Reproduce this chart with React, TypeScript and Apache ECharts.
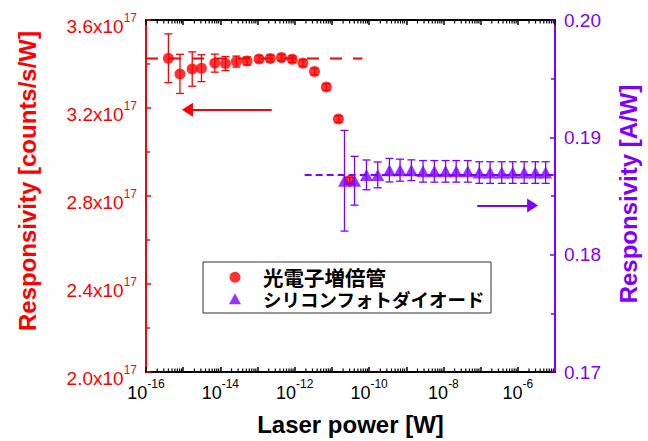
import React, { useEffect, useRef } from 'react';
import * as echarts from 'echarts';

const RED = '#ff0000';
const PURPLE = '#8000ff';
const FONT = 'Liberation Sans, Arial, sans-serif';
const CJK = 'Noto Sans CJK JP';

// Photomultiplier tube (left axis, counts/s/W in units of 1e17)
const pmtName = '光電子増倍管';
const pmtPower = [4.0e-16, 8.2e-16, 1.75e-15, 3.1e-15, 7.1e-15, 1.37e-14, 2.7e-14, 5.2e-14, 1.1e-13, 2.2e-13, 4.4e-13, 8.6e-13, 1.66e-12, 3.4e-12, 7.1e-12, 1.5e-11, 3.0e-11];
const pmtResp = [3.426, 3.355, 3.377, 3.381, 3.404, 3.402, 3.411, 3.414, 3.423, 3.425, 3.429, 3.422, 3.404, 3.366, 3.295, 3.150, 2.870];
const pmtErr = [0.111, 0.089, 0.078, 0.061, 0.041, 0.032, 0.025, 0.018, 0.015, 0.015, 0.015, 0.015, 0.015, 0.015, 0.015, 0.015, 0.015];

// Silicon photodiode (right axis, A/W)
const siName = 'シリコンフォトダイオード';
const siPower = [2.18e-11, 4.06e-11, 8.5e-11, 1.71e-10, 3.52e-10, 6.8e-10, 1.37e-9, 2.82e-9, 5.7e-9, 1.14e-8, 2.2e-8, 4.5e-8, 9.2e-8, 1.8e-7, 3.7e-7, 7.3e-7, 1.48e-6, 2.96e-6, 5.6e-6];
const siResp = [0.1863, 0.1863, 0.1868, 0.1868, 0.1872, 0.1872, 0.1872, 0.1871, 0.1871, 0.1871, 0.1871, 0.1871, 0.1870, 0.1870, 0.1870, 0.1870, 0.1870, 0.1870, 0.1870];
const siErr = [0.00429, 0.00208, 0.00127, 0.0011, 0.0010, 0.00094, 0.00088, 0.00092, 0.00092, 0.00092, 0.00092, 0.00092, 0.00092, 0.00092, 0.00092, 0.00092, 0.00092, 0.00092, 0.00092];

// Reference (average) lines
const pmtRefLine = { power: [1e-16, 6.6e-11], value: 3.425 };
const siRefLine = { power: [1.85e-12, 1e-5], value: 0.1868 };

// Arrows
const pmtArrow = { from: [2.4e-13, 3.192], to: [1.3e-15, 3.192] };
const siArrow = { from: [8.1e-8, 0.1842], to: [2.5e-6, 0.1842] };

// Axes
const xMinExp = -16;
const xMaxExp = -5;
const xLabelExponents = [-16, -14, -12, -10, -8, -6];
const leftTicks = { min: 2.0, max: 3.6, step: 0.4 };
const rightTicks = { min: 0.17, max: 0.20, step: 0.01 };
const minorMultipliers = [2, 3, 4, 5, 6, 7, 8, 9];

const lg = (p: number) => Math.log10(p);

function errorRender(color: string, cap: number) {
  return (params: any, api: any) => {
    const x = api.value(0);
    const lo = api.coord([x, api.value(1)]);
    const hi = api.coord([x, api.value(2)]);
    const style = { stroke: color, lineWidth: 1.3 };
    return {
      type: 'group',
      children: [
        { type: 'line', shape: { x1: lo[0], y1: lo[1], x2: hi[0], y2: hi[1] }, style },
        { type: 'line', shape: { x1: lo[0] - cap, y1: lo[1], x2: lo[0] + cap, y2: lo[1] }, style },
        { type: 'line', shape: { x1: hi[0] - cap, y1: hi[1], x2: hi[0] + cap, y2: hi[1] }, style },
      ],
    };
  };
}

export default function App() {
  const ref = useRef<HTMLDivElement>(null);
  useEffect(() => {
    if (!ref.current) return;
    const chart = echarts.init(ref.current, undefined, { renderer: 'svg' });

    const minorTicks: number[][] = [];
    for (let n = xMinExp; n < xMaxExp; n++) {
      for (const k of minorMultipliers) minorTicks.push([n + Math.log10(k), leftTicks.min]);
    }

    const supRich = (color: string, size: number) => ({
      b: { fontSize: size, color, fontFamily: FONT, lineHeight: 24, verticalAlign: 'bottom' },
      s: { fontSize: 12, color, fontFamily: FONT, lineHeight: 12, verticalAlign: 'top' },
    });

    const option: any = {
      animation: false,
      backgroundColor: '#fff',
      grid: { left: 146, right: 92, top: 20, bottom: 68, containLabel: false },
      legend: {
        orient: 'vertical',
        left: 203,
        top: 262,
        padding: [5, 6, 5, 26],
        borderColor: '#333',
        borderWidth: 1,
        itemWidth: 12,
        itemHeight: 11,
        itemGap: 2,
        selectedMode: false,
        data: [
          { name: pmtName, icon: 'circle', itemStyle: { color: RED } },
          { name: siName, icon: 'triangle', itemStyle: { color: PURPLE } },
        ],
        formatter: (name: string) => (name === pmtName ? `{k|${name}}` : `{s|${name}}`),
        textStyle: {
          color: '#000',
          fontFamily: CJK,
          fontWeight: 'bold',
          rich: {
            k: { fontSize: 20.5, fontWeight: 'bold', fontFamily: CJK, color: '#000', lineHeight: 20, padding: [0, 0, 0, 17] },
            s: { fontSize: 18.5, fontWeight: 'bold', fontFamily: CJK, color: '#000', lineHeight: 20, padding: [0, 0, 0, 17] },
          },
        },
      },
      xAxis: [
        {
          type: 'value',
          min: xMinExp,
          max: xMaxExp,
          interval: 1,
          position: 'bottom',
          axisLine: { show: true, onZero: false, lineStyle: { color: '#000', width: 2 } },
          axisTick: { show: true, inside: true, length: 5, lineStyle: { color: '#000', width: 1.5 } },
          splitLine: { show: false },
          axisLabel: {
            margin: 6,
            showMaxLabel: false,
            formatter: (v: number) => (xLabelExponents.includes(Math.round(v)) && Math.abs(v - Math.round(v)) < 1e-9 ? `{b|10}{s|${Math.round(v)}}` : ''),
            rich: supRich('#000', 18),
          },
          name: 'Laser power [W]',
          nameLocation: 'middle',
          nameGap: 40,
          nameTextStyle: { color: '#000', fontSize: 24, fontWeight: 'bold', fontFamily: FONT },
        },
        {
          type: 'value',
          min: xMinExp,
          max: xMaxExp,
          interval: 1,
          position: 'top',
          axisLine: { show: true, onZero: false, lineStyle: { color: '#000', width: 2 } },
          axisTick: { show: true, inside: true, length: 5, lineStyle: { color: '#000', width: 1.5 } },
          splitLine: { show: false },
          axisLabel: { show: false },
        },
      ],
      yAxis: [
        {
          type: 'value',
          min: leftTicks.min,
          max: leftTicks.max,
          interval: leftTicks.step,
          position: 'left',
          axisLine: { show: true, onZero: false, lineStyle: { color: RED, width: 2 } },
          axisTick: { show: true, inside: true, length: 5, lineStyle: { color: RED, width: 1.5 } },
          minorTick: { show: true, splitNumber: 2, length: 4, lineStyle: { color: RED, width: 1.5 } },
          splitLine: { show: false },
          axisLabel: {
            margin: 9,
            padding: [8, 0, 0, 0],
            formatter: (v: number) => `{b|${v.toFixed(1)}x10}{s|17}`,
            rich: supRich(RED, 19),
          },
          name: 'Responsivity [counts/s/W]',
          nameLocation: 'middle',
          nameRotate: 90,
          nameGap: 107,
          nameTextStyle: { color: RED, fontSize: 24, fontWeight: 'bold', fontFamily: FONT, padding: [0, 0, 0, 30] },
        },
        {
          type: 'value',
          min: rightTicks.min,
          max: rightTicks.max,
          interval: rightTicks.step,
          position: 'right',
          axisLine: { show: true, onZero: false, lineStyle: { color: PURPLE, width: 2 } },
          axisTick: { show: true, inside: true, length: 5, lineStyle: { color: PURPLE, width: 1.5 } },
          minorTick: { show: true, splitNumber: 2, length: 4, lineStyle: { color: PURPLE, width: 1.5 } },
          splitLine: { show: false },
          axisLabel: {
            margin: 9,
            color: PURPLE,
            fontSize: 19,
            fontFamily: FONT,
            formatter: (v: number) => v.toFixed(2),
          },
          name: 'Responsivity [A/W]',
          nameLocation: 'middle',
          nameRotate: 90,
          nameGap: 61,
          nameTextStyle: { color: PURPLE, fontSize: 24, fontWeight: 'bold', fontFamily: FONT, padding: [0, 0, 0, 4] },
        },
      ],
      series: [
        {
          type: 'custom',
          name: 'minorTicks',
          xAxisIndex: 0,
          yAxisIndex: 0,
          silent: true,
          clip: false,
          data: minorTicks,
          renderItem: (params: any, api: any) => {
            const x = api.coord([api.value(0), leftTicks.min])[0];
            const cs = params.coordSys;
            const bottom = cs.y + cs.height;
            const top = cs.y;
            const style = { stroke: '#000', lineWidth: 1.2 };
            return {
              type: 'group',
              children: [
                { type: 'line', shape: { x1: x, y1: bottom, x2: x, y2: bottom - 3.5 }, style },
                { type: 'line', shape: { x1: x, y1: top, x2: x, y2: top + 3.5 }, style },
              ],
            };
          },
        },
        {
          type: 'line',
          name: 'pmtRef',
          xAxisIndex: 0,
          yAxisIndex: 0,
          symbol: 'none',
          silent: true,
          data: pmtRefLine.power.map((p) => [lg(p), pmtRefLine.value]),
          lineStyle: { color: RED, width: 2, type: [12, 11] },
        },
        {
          type: 'custom',
          name: 'pmtErr',
          xAxisIndex: 0,
          yAxisIndex: 0,
          silent: true,
          encode: { x: 0, y: [1, 2] },
          data: pmtPower.map((p, i) => [lg(p), pmtResp[i] - pmtErr[i], pmtResp[i] + pmtErr[i]]),
          renderItem: errorRender(RED, 4),
        },
        {
          type: 'scatter',
          name: pmtName,
          xAxisIndex: 0,
          yAxisIndex: 0,
          symbol: 'circle',
          symbolSize: 11,
          itemStyle: { color: RED },
          data: pmtPower.map((p, i) => [lg(p), pmtResp[i]]),
          markLine: {
            silent: true,
            symbol: ['none', 'triangle'],
            symbolSize: [14, 11],
            label: { show: false },
            lineStyle: { color: RED, width: 2, type: 'solid' },
            data: [[{ coord: [lg(pmtArrow.from[0]), pmtArrow.from[1]] }, { coord: [lg(pmtArrow.to[0]), pmtArrow.to[1]] }]],
          },
        },
        {
          type: 'line',
          name: 'siRef',
          xAxisIndex: 0,
          yAxisIndex: 1,
          symbol: 'none',
          silent: true,
          data: siRefLine.power.map((p) => [lg(p), siRefLine.value]),
          lineStyle: { color: PURPLE, width: 2, type: [7, 4] },
        },
        {
          type: 'custom',
          name: 'siErr',
          xAxisIndex: 0,
          yAxisIndex: 1,
          silent: true,
          encode: { x: 0, y: [1, 2] },
          data: siPower.map((p, i) => [lg(p), siResp[i] - siErr[i], siResp[i] + siErr[i]]),
          renderItem: errorRender(PURPLE, 4),
        },
        {
          type: 'scatter',
          name: siName,
          xAxisIndex: 0,
          yAxisIndex: 1,
          symbol: 'triangle',
          symbolSize: [13, 12],
          itemStyle: { color: PURPLE },
          data: siPower.map((p, i) => [lg(p), siResp[i]]),
          markLine: {
            silent: true,
            symbol: ['none', 'triangle'],
            symbolSize: [14, 11],
            label: { show: false },
            lineStyle: { color: PURPLE, width: 2, type: 'solid' },
            data: [[{ coord: [lg(siArrow.from[0]), siArrow.from[1]] }, { coord: [lg(siArrow.to[0]), siArrow.to[1]] }]],
          },
        },
      ],
    };
    chart.setOption(option);
    return () => chart.dispose();
  }, []);
  return <div ref={ref} style={{ position: 'fixed', left: 0, top: 0, width: 648, height: 441 }} />;
}
